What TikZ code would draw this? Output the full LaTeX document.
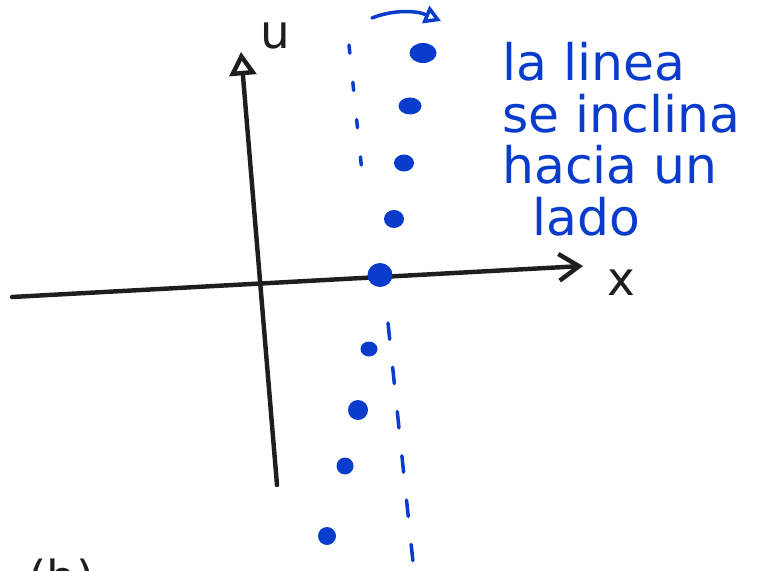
\documentclass[tikz,border=0pt]{standalone}
\usepackage{fontspec}
\setmainfont{DejaVu Sans}
\usetikzlibrary{arrows.meta, shapes.geometric}
\definecolor{InkBlue}{HTML}{0A3CCB}
\definecolor{InkBlack}{HTML}{1E1E1E}

\begin{document}
\begin{tikzpicture}[
    x=0.03cm, y=-0.03cm,
    axisline/.style={draw=InkBlack, line width=3.8pt, line cap=round},
    inkdot/.style={ellipse, fill=InkBlue, inner sep=0pt},
    guide/.style={draw=InkBlue, line width=3pt, line cap=round},
    note/.style={text=InkBlue, font=\fontsize{43}{44}\selectfont, align=left, inner sep=0pt},
    axlabel/.style={text=InkBlack, font=\fontsize{40}{40}\selectfont, inner sep=0pt}
]
    \useasboundingbox (0,0) rectangle (762,571);

    \coordinate (xstart) at (12,297);
    \coordinate (xend) at (583,266);
    \coordinate (ustart) at (277,485);
    \coordinate (uend) at (241,52);
    \draw[axisline, -{Straight Barb[length=6mm, width=8mm]}] (xstart) -- (xend);
    \draw[axisline, -{Triangle[open, length=7mm, width=8mm, fill=white]}] (ustart) -- (uend);
    \node[axlabel] (xlab) at (621,283) {x};
    \node[axlabel] (ulab) at (275,36) {u};

    \coordinate (vtop) at (349,45);
    \coordinate (vmid) at (362,172);
    \coordinate (vlow) at (388,323);
    \coordinate (vbot) at (413,562);
    \draw[guide, dash pattern=on 7pt off 25pt] (vtop) -- (vmid);
    \draw[guide, dash pattern=on 14pt off 24pt] (vlow) -- (vbot);

    \coordinate (shiftstart) at (372,18);
    \coordinate (shiftend) at (441,21);
    \draw[guide, -{Triangle[open, length=5mm, width=5.5mm, fill=white]}] (shiftstart) .. controls (392,10) and (415,10) .. (shiftend);

    \node[inkdot, minimum width=8.1mm, minimum height=6mm] (d1) at (423,53) {};
    \node[inkdot, minimum width=6.9mm, minimum height=5.1mm] (d2) at (410,106) {};
    \node[inkdot, minimum width=6mm, minimum height=5.1mm] (d3) at (404,163) {};
    \node[inkdot, minimum width=6mm, minimum height=5.4mm] (d4) at (394,219) {};
    \node[inkdot, minimum width=7.5mm, minimum height=7.2mm] (d5) at (380,275) {};
    \node[inkdot, minimum width=5.1mm, minimum height=4.5mm] (d6) at (369,349) {};
    \node[inkdot, minimum width=6mm, minimum height=6mm] (d7) at (358,410) {};
    \node[inkdot, minimum width=5.1mm, minimum height=5.1mm] (d8) at (345,466) {};
    \node[inkdot, minimum width=5.4mm, minimum height=5.4mm] (d9) at (327,536) {};

    \node[note, anchor=north west] (remark) at (502,42) {la linea\\se inclina\\hacia un\\\hspace{0.6em}lado};
    \node[axlabel, anchor=north west] (caption) at (28,559) {(b)};
\end{tikzpicture}
\end{document}
